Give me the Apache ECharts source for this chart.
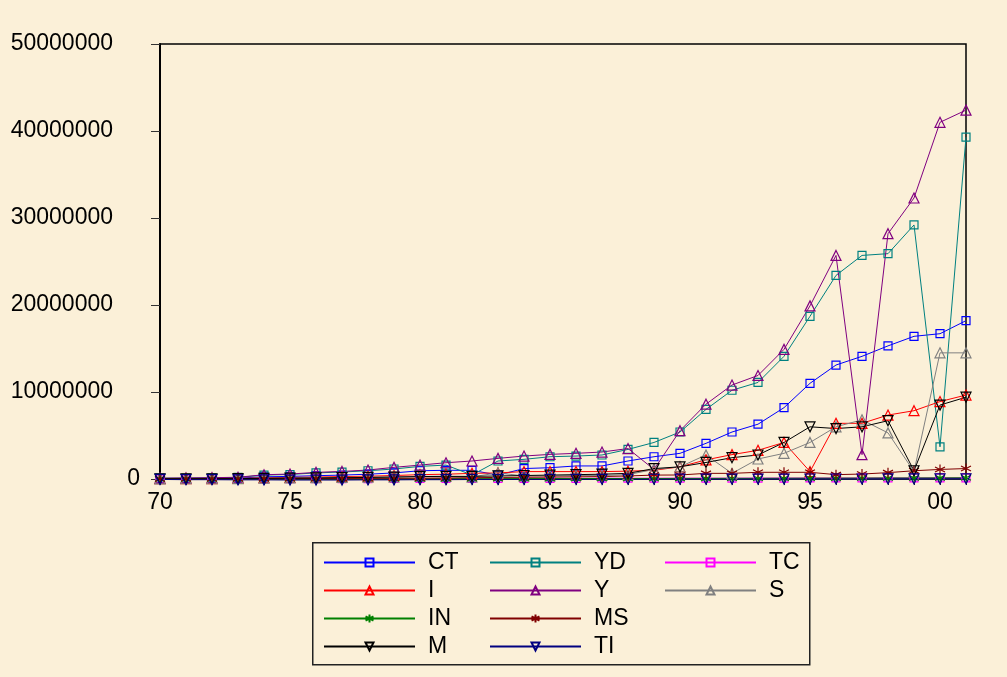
<!DOCTYPE html>
<html>
<head>
<meta charset="utf-8">
<script src="https://cdn.jsdelivr.net/npm/echarts@6/dist/echarts.min.js"></script>
<style>
  html, body { margin: 0; padding: 0; background: #fbf0d8; }
  #main { width: 1007px; height: 677px; }
</style>
</head>
<body>
<div id="main"></div>
<script>
// 年份 1970 - 2001
const years = ['1970','1971','1972','1973','1974','1975','1976','1977','1978','1979',
  '1980','1981','1982','1983','1984','1985','1986','1987','1988','1989',
  '1990','1991','1992','1993','1994','1995','1996','1997','1998','1999','2000','2001'];

// 数值单位: 百万 (million)
const ct = [0.05,0.06,0.08,0.10,0.25,0.30,0.38,0.45,0.55,0.70,
  0.95,1.00,1.00,0.45,1.20,1.30,1.50,1.50,2.07,2.56,
  2.95,4.10,5.40,6.30,8.20,11.0,13.1,14.1,15.3,16.4,16.7,18.2];
const yd = [0.09,0.11,0.14,0.18,0.45,0.52,0.70,0.80,0.95,1.15,
  1.45,1.60,0.46,2.07,2.26,2.56,2.64,2.76,3.40,4.20,
  5.40,8.00,10.2,11.1,14.1,18.7,23.4,25.7,25.9,29.2,3.70,39.3];
const tc = [0.02,0.02,0.03,0.03,0.04,0.04,0.05,0.05,0.05,0.06,
  0.06,0.07,0.07,0.07,0.08,0.08,0.08,0.09,0.09,0.09,
  0.10,0.10,0.10,0.11,0.11,0.12,0.12,0.12,0.13,0.13,0.14,0.14];
const inv = [0.03,0.04,0.05,0.06,0.15,0.18,0.22,0.28,0.32,0.40,
  0.50,0.55,0.65,0.70,0.85,0.85,0.85,0.85,0.90,1.00,
  1.40,2.20,2.80,3.30,4.20,0.85,6.40,6.40,7.35,7.85,8.90,9.65];
const y = [0.10,0.12,0.15,0.20,0.49,0.57,0.76,0.87,1.03,1.34,
  1.60,1.87,2.07,2.37,2.64,2.83,2.95,3.10,3.50,1.10,
  5.55,8.60,10.8,11.9,14.9,19.9,25.7,2.80,28.2,32.3,41.0,42.4];
const s = [0.02,0.03,0.03,0.04,0.10,0.12,0.15,0.18,0.20,0.25,
  0.30,0.30,0.25,0.70,0.35,0.35,0.40,0.40,0.50,1.10,
  1.40,2.76,0.65,2.30,2.95,4.20,6.00,6.80,5.30,0.85,14.5,14.5];
const inn = [0.01,0.01,0.01,0.02,0.02,0.02,0.02,0.03,0.03,0.03,
  0.03,0.04,0.04,0.04,0.05,0.05,0.05,0.06,0.06,0.06,
  0.07,0.07,0.08,0.08,0.09,0.10,0.10,0.11,0.12,0.12,0.13,0.14];
const ms = [0.01,0.02,0.02,0.03,0.04,0.05,0.06,0.07,0.08,0.09,
  0.10,0.12,0.15,0.18,0.20,0.22,0.25,0.28,0.35,0.45,
  0.46,0.65,0.65,0.77,0.77,0.77,0.50,0.57,0.73,0.95,1.10,1.20];
const m = [0.02,0.02,0.03,0.04,0.08,0.10,0.12,0.15,0.18,0.22,
  0.28,0.30,0.30,0.35,0.40,0.45,0.50,0.55,0.65,1.20,
  1.40,1.90,2.45,2.76,4.20,6.00,5.80,6.00,6.70,0.95,8.50,9.40];
const ti = [-0.05,-0.08,-0.08,-0.10,-0.10,-0.12,-0.12,-0.12,-0.10,-0.10,
  -0.08,-0.08,-0.06,-0.06,-0.05,-0.05,-0.04,-0.04,-0.03,-0.03,
  -0.02,-0.02,-0.02,-0.01,-0.01,0.00,0.00,0.00,0.01,0.01,0.01,0.02];

const seriesNames = ['CT','YD','TC','I','Y','S','IN','MS','M','TI'];
const seriesData = [ct, yd, tc, inv, y, s, inn, ms, m, ti];
const seriesColors = ['#0000ff','#008080','#ff00ff','#ff0000','#800080','#808080','#008000','#800000','#000000','#000080'];

const yTicks = [0, 10, 20, 30, 40, 50];

const FONT = 'Liberation Sans, Arial, sans-serif';
const starPath = 'path://M0,-10L0,10M-8.66,-5L8.66,5M-8.66,5L8.66,-5';
const markers = ['rect','rect','rect','triangle','triangle','triangle',starPath,starPath,'triangle','triangle'];
const rotates = [0,0,0,0,0,0,0,0,180,180];

const myChart = echarts.init(document.getElementById('main'));

const series = seriesNames.map((name, i) => ({
  name: name,
  type: 'line',
  data: seriesData[i],
  symbol: markers[i],
  symbolRotate: rotates[i],
  symbolSize: markers[i] === 'rect' ? 8 : 10,
  showAllSymbol: true,
  clip: false,
  lineStyle: { color: seriesColors[i], width: 1 },
  itemStyle: { color: 'transparent', borderColor: seriesColors[i], borderWidth: 1.2 },
  emphasis: { disabled: true }
}));

// 图例: 三列竖排
function legendCol(left, names) {
  return {
    orient: 'vertical',
    left: left,
    top: 551,
    padding: 0,
    itemWidth: 91,
    itemHeight: 10,
    itemGap: 5,
    selectedMode: false,
    data: names,
    textStyle: { fontSize: 23, fontFamily: FONT, color: '#000', padding: [0, 0, 0, 8] }
  };
}

const option = {
  backgroundColor: '#fbf0d8',
  animation: false,
  grid: {
    left: 160, right: 41, top: 44, bottom: 198,
    show: true, borderColor: '#000', borderWidth: 1.5, backgroundColor: 'transparent'
  },
  legend: [
    legendCol(323, ['CT','I','IN','M']),
    legendCol(489, ['YD','Y','MS','TI']),
    legendCol(664, ['TC','S'])
  ],
  xAxis: {
    type: 'category',
    data: years,
    boundaryGap: false,
    axisLine: { lineStyle: { color: '#222', width: 1.5 } },
    axisTick: { interval: 0, length: 6, lineStyle: { color: '#222' } },
    axisLabel: {
      interval: (idx) => idx % 5 === 0,
      formatter: (v) => v.slice(2),
      fontSize: 23, fontFamily: FONT, color: '#000', margin: 12
    },
    splitLine: { show: false }
  },
  yAxis: {
    type: 'value',
    min: yTicks[0],
    max: yTicks[yTicks.length - 1],
    interval: 10,
    axisLine: { show: true, lineStyle: { color: '#000', width: 2 } },
    axisTick: { show: true, length: 9, lineStyle: { color: '#333' } },
    axisLabel: {
      fontSize: 23, fontFamily: FONT, color: '#000', margin: 20,
      formatter: (v) => v === 0 ? '0' : '{a|' + (v * 1000000) + '}',
      rich: { a: { fontSize: 23, fontFamily: FONT, color: '#000', padding: [0, 27, 0, 0] } }
    },
    splitLine: { show: false }
  },
  graphic: [
    {
      type: 'rect',
      left: 312, top: 542,
      shape: { width: 497, height: 122 },
      style: { fill: 'transparent', stroke: '#222', lineWidth: 1.5 },
      z: 0
    }
  ],
  series: series
};

myChart.setOption(option);
</script>
</body>
</html>
